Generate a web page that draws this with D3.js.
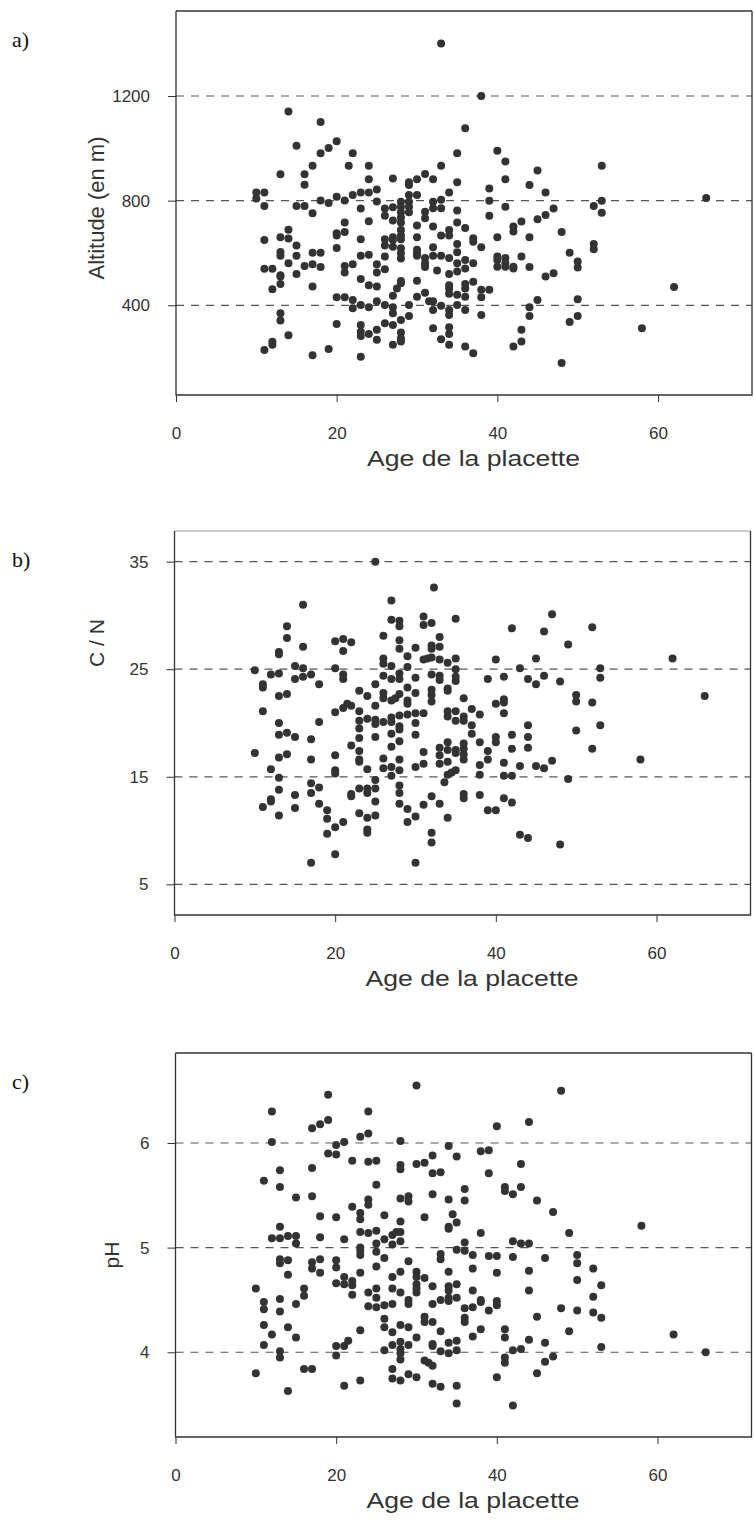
<!DOCTYPE html>
<html>
<head>
<meta charset="utf-8">
<script src="https://cdn.jsdelivr.net/npm/d3@7"></script>
<style>
    body { margin: 0; background: #fff; }
    svg { display: block; }
    .tick text { font-family: "Liberation Sans", Arial, sans-serif; fill: #333; }
</style>
</head>
<body>
<script>
// [age, altitude]
const altitudePts = [
    [14,1141],[18,1101],[15,1010],[18,981],[19,1001],[20,1027],[22,981],[17,933],[21.5,933],[13,901],[16,901],[16,861],[24,933],[24,882],
    [10,831],[10,808],[11,831],[11,780],[15,780],[16,780],[17,752],[18,801],[19,791],[20,815],[21,801],[22,822],[23,831],[24,831],[23,770],
    [24,721],[14,689],[13,660],[14,655],[11,650],[15,629],[13,604],[13,589],[15,589],[14,561],[17,601],[18,601],[17,557],[18,546],[16,550],
    [11,540],[12,540],[13,515],[13,510],[13,481],[12,461],[15,520],[17,472],[20,675],[20,667],[21,680],[21,716],[20,619],[21,550],[21,525],
    [22,557],[23,652],[23,589],[24,593],[23,500],[24,477],[20,431],[21,431],[22,420],[22,389],[23,401],[24,392],[13,370],[13,342],[14,285],
    [11,229],[12,261],[12,249],[17,209],[19,233],[20,328],[23,325],[23,299],[23,283],[24,290],[23,203],
    [33,1401],[38,1200],[36,1077],[35,981],[40,991],[41,950],[27,885],[29,870],[29,860],[30,882],[31,902],[32,882],[33,933],[35,870],[41,882],
    [45,915],[44,860],[46,831],[39,846],[34,831],[29,822],[30,822],[25,843],[25,797],[26,770],[26,742],[27,775],[28,796],[28,777],[28,756],
    [28,736],[28,716],[28,688],[28,667],[28,652],[29,796],[29,777],[29,756],[27,724],[27,660],[27,650],[27,624],[26,652],[26,629],[28,618],
    [28,599],[28,579],[26,586],[25,557],[25,525],[26,538],[25,472],[25,415],[26,401],[27,392],[27,370],[28,484],[28,493],[27.5,464],[27,436],
    [28,344],[28,296],[28,274],[28,262],[27,325],[27,249],[26,331],[25,306],[25,268],[29,401],[29,359],[30,494],[30,433],[31,448],[30,705],
    [30,660],[30,612],[30,599],[30,589],[31,758],[31,733],[31,581],[31,561],[31,546],[32,796],[32,771],[32,701],[32,622],[32,589],[33,803],
    [33,771],[33,667],[33,589],[34,688],[34,667],[34,581],[32.5,533],[32,415],[31.5,415],[32,382],[32,312],[33,398],[33,270],[34,382],[34,363],
    [34,316],[34,290],[34,249],[35,762],[35,716],[35,634],[35,603],[35,561],[35,529],[34,520],[34,477],[34,464],[34,444],[35,440],[35,401],
    [36,695],[36,573],[36,541],[36,481],[36,464],[36,433],[36,382],[37,656],[37,643],[37,561],[37,490],[38,622],[38,459],[38,431],[39,459],
    [38,363],[36,242],[37,217],[39,800],[39,742],[40,660],[40,586],[40,573],[40,547],[41,581],[41,561],[41,547],[42,547],[42,541],[42,701],
    [42,682],[43,720],[41,777],[44,660],[43,586],[44,546],[45,729],[46,745],[47,770],[46,510],[47,522],[45,420],[44,392],[44,359],[43,306],
    [43,262],[42,242],
    [48,680],[49,601],[50,567],[50,544],[52,780],[53,933],[53,800],[53,754],[52,634],[52,614],[50,423],[50,359],[49,336],[48,179],[58,312],
    [62,470],[66,810]
]

// [age, C/N]
const cnPts = [
    [16,31.0],[14,29.0],[14,27.9],[13,26.6],[13,26.4],[16,27.1],[20,27.6],[21,27.8],[22,27.5],[21,26.7],[10,24.9],[12,24.5],[13,24.6],
    [15,25.3],[16,25.1],[16,24.3],[15,24.1],[17,24.5],[18,23.6],[11,23.6],[11,23.3],[13,22.5],[14,22.7],[20,25.1],[21,24.5],[21,24.1],
    [23,23.0],[24,22.5],[11,21.1],[13,20.0],[13,18.9],[14,19.1],[15,18.7],[18,20.1],[17,18.5],[20,21.0],[21,21.4],[21.5,21.8],[22,21.6],
    [23,21.1],[23,20.2],[24,20.4],[23,19.5],[23,18.6],[10,17.2],[13,16.8],[14,17.1],[17,16.6],[20,17.0],[22,17.9],[23,17.4],[23,16.6],
    [23,16.4],[24,15.7],[12,15.7],[13,14.9],[13,13.8],[20,15.6],[20,15.3],[17,14.4],[17,13.5],[18,14.0],[15,13.3],[11,12.2],[12,12.7],
    [12,12.9],[15,12.1],[13,11.4],[18,12.5],[19,11.9],[19,11.1],[19,9.7],[20,10.3],[21,10.8],[22,13.4],[22,13.2],[23,13.9],[24,13.9],
    [24,13.5],[23,11.6],[24,11.2],[24,10.1],[24,9.8],[17,7.0],[20,7.8],
    [25,35.0],[27,31.4],[32.3,32.6],[27,29.6],[28,29.5],[28,29.0],[31,29.9],[31,29.1],[32,29.3],[35,29.7],[42,28.8],[46,28.5],[47,30.1],
    [26,28.1],[28,27.7],[28,26.9],[30,27.0],[32,27.2],[32,26.9],[33,27.1],[33,28.0],[29,26.2],[26,26.0],[26,25.5],[27,25.3],[31,25.9],
    [31.5,26.0],[32,26.1],[33,25.9],[34,25.6],[35,26.0],[35,25.0],[40,25.9],[43,25.1],[45,26.0],[29,25.2],[26,24.4],[27,24.1],[28,24.6],
    [28,24.1],[30,24.2],[32,24.5],[33,24.4],[33,24.0],[35,24.3],[35,23.9],[39,24.1],[41,24.3],[44,24.1],[45,23.6],[46,24.4],[48,23.85],
    [25,23.6],[26,22.8],[26,22.3],[27,22.1],[27.5,22.3],[28,22.7],[29,23.3],[29,22.1],[29,21.8],[30,22.8],[32,23.1],[32,22.6],[32,22.0],
    [34,23.2],[34,23.0],[36,22.3],[40,21.8],[41,22.2],[41,21.9],[25,21.6],[25,20.3],[25,19.9],[26,20.1],[27,20.5],[27,20.1],[28,20.7],
    [29,20.8],[30,20.9],[31,20.9],[34,21.1],[34,20.6],[35,21.1],[35,20.2],[36,20.6],[36,20.2],[37,21.3],[38,20.8],[41,20.9],[28,19.7],
    [28,19.4],[30,20.0],[30,18.9],[37,19.8],[37,19.0],[27,19.0],[25,18.7],[28,18.3],[38,18.2],[40,18.7],[40,18.2],[42,18.9],[42,17.6],
    [44,19.8],[44,18.7],[44,17.7],[27,17.8],[31,17.3],[33,17.7],[33,17.0],[33,16.2],[34,18.2],[34,17.5],[34,16.4],[35,17.5],[35,17.2],
    [36,18.1],[36,17.6],[36,17.1],[36,16.6],[39,17.4],[39,16.6],[26,16.7],[26,15.8],[27,15.9],[28,16.6],[28,15.6],[30,15.9],[31,16.2],
    [38,16.1],[41,16.3],[43,16.0],[45,16.0],[46,15.8],[47,16.5],[27,15.1],[34,15.2],[34.5,15.4],[35,15.6],[33.6,14.5],[38,15.2],[41,15.1],
    [42,15.1],[25,14.7],[25,13.9],[28,14.2],[28,13.5],[25,12.7],[28,12.5],[29,12.0],[29,10.8],[30,11.3],[31,12.4],[32,13.2],[33,12.5],
    [32,9.8],[32,8.9],[34,11.2],[36,13.4],[36,13.0],[38,13.3],[39,11.9],[40,11.9],[41,13.0],[42,12.6],[43,9.6],[44,9.3],[30,7.0],[25,11.4],
    [52,28.9],[49,27.3],[53,25.1],[53,24.2],[62,26.0],[50,22.6],[50,22.0],[52,21.9],[66,22.5],[53,19.8],[50,19.3],[52,17.6],[58,16.6],
    [49,14.8],[48,8.7]
]

// [age, pH]
const phPts = [
    [19,6.46],[12,6.30],[17,6.14],[18,6.18],[19,6.22],[12,6.01],[20,5.98],[21,6.01],[20,5.89],[19,5.90],[23,6.06],[24,6.09],[24,6.30],
    [22,5.83],[24,5.82],[13,5.74],[11,5.64],[13,5.58],[17,5.76],[15,5.48],[17,5.49],[18,5.30],[20,5.29],[22,5.39],[23,5.33],[23,5.27],
    [24,5.46],[24,5.41],[13,5.20],[12,5.09],[13,5.09],[14,5.11],[15,5.11],[15,5.04],[18,5.10],[21,5.08],[23,5.15],[24,5.14],[23,5.00],
    [23,4.97],[23,4.93],[13,4.89],[13,4.85],[14,4.88],[17,4.86],[17,4.80],[18,4.89],[14,4.74],[18,4.76],[20,4.88],[20,4.81],[21,4.72],
    [23,4.76],[20,4.66],[21,4.65],[22,4.68],[22,4.64],[22,4.55],[10,4.61],[16,4.61],[16,4.54],[11,4.48],[11,4.41],[13,4.51],[13,4.39],
    [15,4.46],[24,4.57],[24,4.44],[11,4.26],[12,4.17],[14,4.24],[15,4.14],[11,4.07],[13,4.01],[13,3.95],[20,4.06],[21,4.06],[21.5,4.11],
    [23,4.21],[20,3.97],[10,3.80],[16,3.84],[17,3.84],[14,3.63],[21,3.68],[23,3.73],
    [30,6.55],[28,6.02],[34,5.97],[35,5.87],[32,5.88],[25,5.83],[28,5.79],[28,5.75],[30,5.80],[31,5.81],[32,5.71],[33,5.72],[38,5.92],
    [39,5.93],[40,6.16],[44,6.20],[43,5.80],[39,5.71],[48,6.50],[25,5.60],[28,5.47],[29,5.49],[29,5.44],[32,5.51],[34,5.46],[36,5.56],
    [36,5.45],[41,5.58],[41,5.54],[42,5.51],[43,5.58],[45,5.45],[47,5.34],[26,5.31],[28,5.25],[31,5.29],[34.5,5.32],[34,5.20],[34,5.18],
    [35,5.24],[25,5.16],[26,5.08],[27,5.12],[27.5,5.15],[28,5.15],[28,5.06],[27,5.03],[25,5.04],[25,4.96],[38,5.14],[36,5.05],[36,4.97],
    [35,4.98],[42,5.06],[43,5.04],[44,5.04],[26,4.90],[29,4.87],[33,4.94],[33,4.89],[37,4.93],[39,4.92],[40,4.92],[42,4.91],[46,4.90],
    [25,4.82],[28,4.77],[27,4.72],[30,4.77],[30,4.72],[31,4.71],[34,4.77],[37,4.80],[40,4.76],[44,4.78],[30,4.65],[30,4.61],[30,4.57],
    [32,4.63],[34,4.63],[34,4.59],[35,4.65],[25,4.61],[27,4.61],[28,4.57],[25,4.52],[26,4.45],[25,4.43],[29,4.50],[29,4.46],[32,4.46],
    [33,4.50],[34,4.52],[34,4.49],[35,4.52],[37,4.59],[38,4.50],[38,4.48],[40,4.49],[40,4.45],[27,4.46],[36,4.42],[37,4.43],[39,4.40],
    [44,4.59],[48,4.42],[45,4.34],[26,4.32],[26,4.24],[27,4.19],[28,4.26],[29,4.24],[31,4.34],[31,4.29],[32,4.29],[36,4.33],[36,4.29],
    [33,4.20],[37,4.15],[38,4.22],[41,4.22],[41,4.14],[44,4.12],[30,4.14],[26,4.02],[27,4.07],[28,4.10],[28,4.03],[28,3.99],[28,3.93],
    [29,4.07],[32,4.08],[32,4.06],[33,4.01],[34,4.09],[34,3.99],[35,4.11],[35,4.02],[42,4.02],[43,4.03],[46,4.09],[47,3.96],[46,3.91],
    [41,3.95],[41,3.90],[31,3.92],[31.5,3.90],[32,3.87],[27,3.84],[27,3.75],[28,3.73],[29,3.79],[30,3.76],[32,3.70],[33,3.67],[35,3.68],
    [40,3.76],[45,3.80],[35,3.51],[42,3.49],
    [49,5.14],[58,5.21],[50,4.93],[50,4.85],[50,4.69],[52,4.80],[53,4.64],[52,4.53],[50,4.40],[52,4.38],[53,4.33],[49,4.20],[53,4.05],
    [62,4.17],[66,4.00]
]

const xTicks = [0, 20, 40, 60]
const altitudeTicks = [400, 800, 1200]
const cnTicks = [5, 15, 25, 35]
const phTicks = [4, 5, 6]
const xTitle = "Age de la placette"

const plotWidth = 576
const plotHeight = 384
const sans = "'Liberation Sans', Arial, sans-serif"

const svg = d3.select("body").append("svg")
    .attr("width", 754)
    .attr("height", 1528)

function drawPanel({ data, label, top, left, yDomain, yTicks, yTitle, titleX, titleY, titleSize, topStroke }) {
    const xScale = d3.scaleLinear().domain([0, 71.7]).range([0, plotWidth])
    const yScale = d3.scaleLinear().domain(yDomain).range([plotHeight, 0])

    const g = svg.append("g").attr("transform", `translate(${left},${top})`)

    // dashed reference lines
    g.selectAll(".ref")
        .data(yTicks)
        .enter()
        .append("line")
        .attr("x1", 0)
        .attr("x2", plotWidth)
        .attr("y1", d => yScale(d))
        .attr("y2", d => yScale(d))
        .attr("stroke", "#555")
        .attr("stroke-width", 1.2)
        .attr("stroke-dasharray", "8,7")

    const yAxis = g.append("g")
        .call(d3.axisLeft(yScale).tickValues(yTicks).tickSize(8).tickSizeOuter(0).tickPadding(18).tickFormat(d3.format("d")))
    yAxis.select(".domain").remove()
    yAxis.selectAll(".tick line").attr("stroke", "#333")
    yAxis.selectAll(".tick text").style("font-size", "17px")

    const xAxis = g.append("g")
        .attr("transform", `translate(0,${plotHeight})`)
        .call(d3.axisBottom(xScale).tickValues(xTicks).tickSize(7).tickSizeOuter(0).tickPadding(25))
    xAxis.select(".domain").remove()
    xAxis.selectAll(".tick line").attr("stroke", "#333")
    xAxis.selectAll(".tick text").style("font-size", "17px")

    // frame
    g.append("line").attr("x1", 0).attr("x2", plotWidth).attr("y1", 0).attr("y2", 0)
        .attr("stroke", topStroke).attr("stroke-width", 1.3)
    g.append("path")
        .attr("d", `M0,0V${plotHeight}H${plotWidth}V0`)
        .attr("fill", "none")
        .attr("stroke", "#333")
        .attr("stroke-width", 1.3)

    g.selectAll(".dot")
        .data(data)
        .enter()
        .append("circle")
        .attr("cx", d => xScale(d[0]))
        .attr("cy", d => yScale(d[1]))
        .attr("r", 4)
        .attr("fill", "#333")

    svg.append("text")
        .attr("transform", `translate(${titleX},${titleY}) rotate(-90)`)
        .attr("text-anchor", "middle")
        .style("font-family", sans)
        .style("font-size", titleSize + "px")
        .attr("fill", "#333")
        .text(yTitle)

    svg.append("text")
        .attr("x", left + 191)
        .attr("y", top + plotHeight + 71)
        .attr("textLength", 213)
        .attr("lengthAdjust", "spacingAndGlyphs")
        .style("font-family", sans)
        .style("font-size", "22px")
        .attr("fill", "#333")
        .text(xTitle)

    svg.append("text")
        .attr("x", 12)
        .attr("y", top + 36)
        .style("font-family", "'Liberation Serif', 'Times New Roman', serif")
        .style("font-size", "22px")
        .attr("fill", "#111")
        .text(label)
}

drawPanel({ data: altitudePts, label: "a)", top: 11, left: 176, yDomain: [57, 1525], yTicks: altitudeTicks,
    yTitle: "Altitude (en m)", titleX: 104, titleY: 208, titleSize: 22, topStroke: "#333" })
drawPanel({ data: cnPts, label: "b)", top: 531, left: 174.5, yDomain: [2.15, 37.85], yTicks: cnTicks,
    yTitle: "C / N", titleX: 104, titleY: 643, titleSize: 21, topStroke: "#bbb" })
drawPanel({ data: phPts, label: "c)", top: 1053, left: 175.5, yDomain: [3.19, 6.86], yTicks: phTicks,
    yTitle: "pH", titleX: 119, titleY: 1255, titleSize: 21, topStroke: "#333" })
</script>
</body>
</html>
